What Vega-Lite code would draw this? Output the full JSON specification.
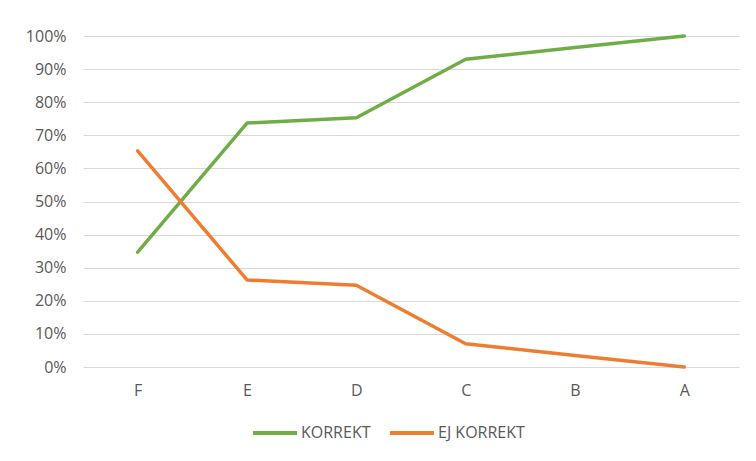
{
  "$schema": "https://vega.github.io/schema/vega-lite/v6.json",
  "width": 656,
  "height": 331,
  "autosize": {"type": "none"},
  "padding": {"left": 83, "top": 36, "right": 17, "bottom": 94},
  "background": "white",
  "data": {
    "values": [
      {"grade": "F", "series": "KORREKT", "value": 0.347},
      {"grade": "E", "series": "KORREKT", "value": 0.737},
      {"grade": "D", "series": "KORREKT", "value": 0.753},
      {"grade": "C", "series": "KORREKT", "value": 0.93},
      {"grade": "B", "series": "KORREKT", "value": 0.965},
      {"grade": "A", "series": "KORREKT", "value": 1.0},
      {"grade": "F", "series": "EJ KORREKT", "value": 0.653},
      {"grade": "E", "series": "EJ KORREKT", "value": 0.263},
      {"grade": "D", "series": "EJ KORREKT", "value": 0.247},
      {"grade": "C", "series": "EJ KORREKT", "value": 0.07},
      {"grade": "B", "series": "EJ KORREKT", "value": 0.035},
      {"grade": "A", "series": "EJ KORREKT", "value": 0.0}
    ]
  },
  "mark": {"type": "line", "strokeWidth": 3.5, "strokeCap": "round", "strokeJoin": "round"},
  "encoding": {
    "x": {
      "field": "grade",
      "type": "ordinal",
      "sort": ["F", "E", "D", "C", "B", "A"],
      "scale": {"type": "point", "padding": 0.5},
      "axis": {"title": null, "labelAngle": 0, "domain": false, "ticks": false, "grid": false, "labelPadding": 15, "labelFont": "Open Sans", "labelFontSize": 16, "labelColor": "#595959"}
    },
    "y": {
      "field": "value",
      "type": "quantitative",
      "scale": {"domain": [0, 1], "nice": false},
      "axis": {"title": null, "format": ".0%", "values": [0,0.1,0.2,0.3,0.4,0.5,0.6,0.7,0.8,0.9,1.0], "labelOverlap": false, "domain": false, "ticks": false, "labelPadding": 17, "gridColor": "#d9d9d9", "gridWidth": 1, "labelFont": "Open Sans", "labelFontSize": 16, "labelColor": "#595959"}
    },
    "color": {
      "field": "series",
      "type": "nominal",
      "sort": ["KORREKT", "EJ KORREKT"],
      "scale": {"domain": ["KORREKT", "EJ KORREKT"], "range": ["#70AD47", "#ED7D31"]},
      "legend": {
        "title": null,
        "orient": "none",
        "direction": "horizontal",
        "legendX": 168,
        "legendY": 373,
        "symbolType": "stroke",
        "symbolSize": 1936,
        "symbolStrokeWidth": 4,
        "labelOffset": 2,
        "columnPadding": 11,
        "labelFont": "Open Sans",
        "labelFontSize": 16,
        "labelColor": "#595959"
      }
    }
  },
  "config": {
    "view": {"stroke": null},
    "font": "Open Sans"
  }
}
